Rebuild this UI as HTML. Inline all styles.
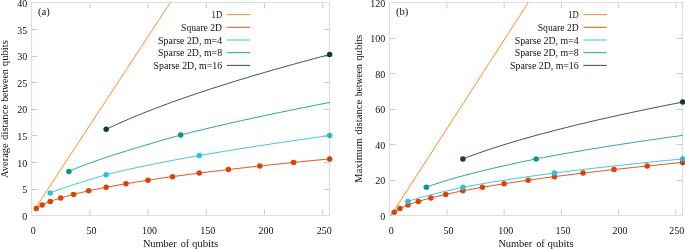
<!DOCTYPE html>
<html><head><meta charset="utf-8"><title>chart</title>
<style>
html,body{margin:0;padding:0;background:#fff;}
svg{display:block;position:absolute;left:0;top:0;will-change:transform}
text{font-family:"Liberation Serif",serif;fill:#111;}
.t{font-size:10px}
.l{font-size:9.8px}
.g{font-size:9.4px}
</style></head><body>
<svg width="685" height="249" viewBox="0 0 685 249">
<rect width="685" height="249" fill="#fff"/>
<clipPath id="ca"><rect x="27.5" y="2.5" width="306.0" height="217.0"/></clipPath>
<path d="M89.90 215.0v-5.4M89.90 3.0v5.4M148.11 215.0v-5.4M148.11 3.0v5.4M206.31 215.0v-5.4M206.31 3.0v5.4M264.51 215.0v-5.4M264.51 3.0v5.4M322.72 215.0v-5.4M322.72 3.0v5.4M32.0 189.50h5.4M329.0 189.50h-5.4M32.0 162.50h5.4M329.0 162.50h-5.4M32.0 135.50h5.4M329.0 135.50h-5.4M32.0 109.50h5.4M329.0 109.50h-5.4M32.0 82.50h5.4M329.0 82.50h-5.4M32.0 56.50h5.4M329.0 56.50h-5.4M32.0 29.50h5.4M329.0 29.50h-5.4" stroke="#000" stroke-opacity="0.21" stroke-width="1" fill="none"/>
<path d="M35.14 208.60 L108.77 96.33 L182.40 -15.94 L256.02 -128.21 L329.65 -240.48" stroke="#ff8c28" stroke-width="1.0" fill="none" clip-path="url(#ca)"/>
<path d="M36.31 208.60 L38.75 206.93 L41.20 205.53 L43.64 204.31 L46.08 203.20 L48.53 202.18 L50.97 201.24 L53.42 200.35 L55.86 199.51 L58.31 198.71 L60.75 197.95 L63.20 197.22 L65.64 196.52 L68.09 195.84 L70.53 195.18 L72.97 194.55 L75.42 193.93 L77.86 193.33 L80.31 192.75 L82.75 192.18 L85.20 191.62 L87.64 191.08 L90.09 190.55 L92.53 190.03 L94.97 189.52 L97.42 189.02 L99.86 188.52 L102.31 188.04 L104.75 187.57 L107.20 187.10 L109.64 186.64 L112.09 186.19 L114.53 185.75 L116.98 185.31 L119.42 184.87 L121.86 184.45 L124.31 184.03 L126.75 183.61 L129.20 183.20 L131.64 182.80 L134.09 182.40 L136.53 182.00 L138.98 181.61 L141.42 181.23 L143.87 180.84 L146.31 180.47 L148.75 180.09 L151.20 179.72 L153.64 179.36 L156.09 179.00 L158.53 178.64 L160.98 178.28 L163.42 177.93 L165.87 177.58 L168.31 177.24 L170.76 176.89 L173.20 176.55 L175.64 176.22 L178.09 175.88 L180.53 175.55 L182.98 175.22 L185.42 174.90 L187.87 174.58 L190.31 174.25 L192.76 173.94 L195.20 173.62 L197.65 173.31 L200.09 173.00 L202.53 172.69 L204.98 172.38 L207.42 172.08 L209.87 171.77 L212.31 171.47 L214.76 171.18 L217.20 170.88 L219.65 170.59 L222.09 170.29 L224.54 170.00 L226.98 169.71 L229.42 169.43 L231.87 169.14 L234.31 168.86 L236.76 168.58 L239.20 168.30 L241.65 168.02 L244.09 167.74 L246.54 167.47 L248.98 167.19 L251.43 166.92 L253.87 166.65 L256.31 166.38 L258.76 166.11 L261.20 165.85 L263.65 165.58 L266.09 165.32 L268.54 165.06 L270.98 164.80 L273.43 164.54 L275.87 164.28 L278.31 164.02 L280.76 163.77 L283.20 163.51 L285.65 163.26 L288.09 163.01 L290.54 162.76 L292.98 162.51 L295.43 162.26 L297.87 162.01 L300.32 161.77 L302.76 161.52 L305.20 161.28 L307.65 161.04 L310.09 160.80 L312.54 160.55 L314.98 160.32 L317.43 160.08 L319.87 159.84 L322.32 159.60 L324.76 159.37 L327.21 159.13 L329.65 158.90" stroke="#e5501a" stroke-width="1.0" fill="none" clip-path="url(#ca)"/>
<circle cx="36.31" cy="208.60" r="2.75" fill="#d94306"/><circle cx="42.13" cy="205.05" r="2.75" fill="#d94306"/><circle cx="50.27" cy="201.50" r="2.75" fill="#d94306"/><circle cx="60.75" cy="197.95" r="2.75" fill="#d94306"/><circle cx="73.56" cy="194.40" r="2.75" fill="#d94306"/><circle cx="88.69" cy="190.85" r="2.75" fill="#d94306"/><circle cx="106.15" cy="187.30" r="2.75" fill="#d94306"/><circle cx="125.94" cy="183.75" r="2.75" fill="#d94306"/><circle cx="148.06" cy="180.20" r="2.75" fill="#d94306"/><circle cx="172.50" cy="176.65" r="2.75" fill="#d94306"/><circle cx="199.28" cy="173.10" r="2.75" fill="#d94306"/><circle cx="228.38" cy="169.55" r="2.75" fill="#d94306"/><circle cx="259.81" cy="166.00" r="2.75" fill="#d94306"/><circle cx="293.56" cy="162.45" r="2.75" fill="#d94306"/><circle cx="329.65" cy="158.90" r="2.75" fill="#d94306"/>
<path d="M50.27 193.07 L52.60 192.07 L54.93 191.13 L57.26 190.24 L59.59 189.38 L61.92 188.55 L64.24 187.75 L66.57 186.97 L68.90 186.20 L71.23 185.45 L73.56 184.70 L75.88 183.96 L78.21 183.23 L80.54 182.51 L82.87 181.78 L85.20 181.06 L87.53 180.34 L89.85 179.62 L92.18 178.91 L94.51 178.20 L96.84 177.49 L99.17 176.78 L101.49 176.08 L103.82 175.39 L106.15 174.70 L108.48 174.12 L110.81 173.54 L113.13 172.97 L115.46 172.42 L117.79 171.86 L120.12 171.32 L122.45 170.78 L124.78 170.25 L127.10 169.72 L129.43 169.20 L131.76 168.68 L134.09 168.17 L136.42 167.67 L138.74 167.17 L141.07 166.68 L143.40 166.19 L145.73 165.70 L148.06 165.22 L150.38 164.74 L152.71 164.27 L155.04 163.80 L157.37 163.34 L159.70 162.88 L162.03 162.42 L164.35 161.97 L166.68 161.52 L169.01 161.07 L171.34 160.63 L173.67 160.19 L175.99 159.75 L178.32 159.32 L180.65 158.89 L182.98 158.46 L185.31 158.03 L187.63 157.61 L189.96 157.19 L192.29 156.78 L194.62 156.36 L196.95 155.95 L199.28 155.55 L201.60 155.14 L203.93 154.74 L206.26 154.33 L208.59 153.94 L210.92 153.54 L213.24 153.15 L215.57 152.75 L217.90 152.36 L220.23 151.98 L222.56 151.59 L224.88 151.21 L227.21 150.83 L229.54 150.45 L231.87 150.07 L234.20 149.69 L236.53 149.32 L238.85 148.95 L241.18 148.58 L243.51 148.21 L245.84 147.84 L248.17 147.48 L250.49 147.11 L252.82 146.75 L255.15 146.39 L257.48 146.03 L259.81 145.68 L262.13 145.32 L264.46 144.97 L266.79 144.62 L269.12 144.26 L271.45 143.92 L273.77 143.57 L276.10 143.22 L278.43 142.88 L280.76 142.53 L283.09 142.19 L285.42 141.85 L287.74 141.51 L290.07 141.17 L292.40 140.84 L294.73 140.50 L297.06 140.17 L299.38 139.83 L301.71 139.50 L304.04 139.17 L306.37 138.84 L308.70 138.51 L311.02 138.19 L313.35 137.86 L315.68 137.54 L318.01 137.21 L320.34 136.89 L322.67 136.57 L324.99 136.25 L327.32 135.93 L329.65 135.61" stroke="#3cc4dc" stroke-width="1.0" fill="none" clip-path="url(#ca)"/>
<circle cx="50.27" cy="193.07" r="2.75" fill="#30c0d8"/><circle cx="106.15" cy="174.70" r="2.75" fill="#30c0d8"/><circle cx="199.28" cy="155.55" r="2.75" fill="#30c0d8"/><circle cx="329.65" cy="135.61" r="2.75" fill="#30c0d8"/>
<path d="M68.90 171.40 L71.07 170.44 L73.25 169.51 L75.42 168.61 L77.59 167.72 L79.76 166.86 L81.94 166.01 L84.11 165.18 L86.28 164.36 L88.46 163.55 L90.63 162.76 L92.80 161.98 L94.97 161.21 L97.15 160.46 L99.32 159.71 L101.49 158.97 L103.67 158.23 L105.84 157.51 L108.01 156.79 L110.19 156.08 L112.36 155.38 L114.53 154.68 L116.70 153.98 L118.88 153.29 L121.05 152.61 L123.22 151.93 L125.40 151.25 L127.57 150.58 L129.74 149.91 L131.91 149.24 L134.09 148.58 L136.26 147.92 L138.43 147.26 L140.61 146.61 L142.78 145.96 L144.95 145.31 L147.13 144.66 L149.30 144.02 L151.47 143.38 L153.64 142.74 L155.82 142.10 L157.99 141.47 L160.16 140.84 L162.34 140.21 L164.51 139.58 L166.68 138.96 L168.85 138.34 L171.03 137.72 L173.20 137.11 L175.37 136.50 L177.55 135.89 L179.72 135.28 L181.89 134.71 L184.06 134.16 L186.24 133.61 L188.41 133.07 L190.58 132.53 L192.76 131.99 L194.93 131.46 L197.10 130.92 L199.28 130.39 L201.45 129.87 L203.62 129.35 L205.79 128.83 L207.97 128.31 L210.14 127.79 L212.31 127.28 L214.49 126.77 L216.66 126.26 L218.83 125.76 L221.00 125.25 L223.18 124.75 L225.35 124.26 L227.52 123.76 L229.70 123.27 L231.87 122.78 L234.04 122.29 L236.21 121.80 L238.39 121.31 L240.56 120.83 L242.73 120.35 L244.91 119.87 L247.08 119.39 L249.25 118.92 L251.43 118.45 L253.60 117.97 L255.77 117.51 L257.94 117.04 L260.12 116.57 L262.29 116.11 L264.46 115.65 L266.64 115.19 L268.81 114.73 L270.98 114.27 L273.15 113.81 L275.33 113.36 L277.50 112.91 L279.67 112.46 L281.85 112.01 L284.02 111.56 L286.19 111.11 L288.36 110.67 L290.54 110.23 L292.71 109.78 L294.88 109.34 L297.06 108.91 L299.23 108.47 L301.40 108.03 L303.57 107.60 L305.75 107.16 L307.92 106.73 L310.09 106.30 L312.27 105.87 L314.44 105.44 L316.61 105.02 L318.79 104.59 L320.96 104.17 L323.13 103.75 L325.30 103.32 L327.48 102.90 L329.65 102.48" stroke="#26a0a0" stroke-width="1.0" fill="none" clip-path="url(#ca)"/>
<circle cx="68.90" cy="171.40" r="2.75" fill="#0e9a6c"/><circle cx="180.65" cy="135.02" r="2.75" fill="#0e9a6c"/>
<path d="M106.15 129.33 L108.01 128.44 L109.88 127.56 L111.74 126.68 L113.60 125.82 L115.46 124.97 L117.33 124.12 L119.19 123.29 L121.05 122.46 L122.91 121.64 L124.78 120.82 L126.64 120.02 L128.50 119.22 L130.36 118.43 L132.22 117.64 L134.09 116.86 L135.95 116.09 L137.81 115.32 L139.67 114.56 L141.54 113.81 L143.40 113.06 L145.26 112.32 L147.13 111.58 L148.99 110.85 L150.85 110.12 L152.71 109.40 L154.58 108.68 L156.44 107.97 L158.30 107.26 L160.16 106.56 L162.03 105.86 L163.89 105.17 L165.75 104.48 L167.61 103.79 L169.48 103.11 L171.34 102.43 L173.20 101.76 L175.06 101.09 L176.93 100.42 L178.79 99.76 L180.65 99.10 L182.51 98.45 L184.38 97.80 L186.24 97.15 L188.10 96.51 L189.96 95.87 L191.82 95.23 L193.69 94.60 L195.55 93.97 L197.41 93.34 L199.28 92.71 L201.14 92.09 L203.00 91.47 L204.86 90.86 L206.73 90.25 L208.59 89.64 L210.45 89.03 L212.31 88.42 L214.18 87.82 L216.04 87.22 L217.90 86.63 L219.76 86.03 L221.62 85.44 L223.49 84.85 L225.35 84.27 L227.21 83.68 L229.07 83.10 L230.94 82.52 L232.80 81.95 L234.66 81.37 L236.53 80.80 L238.39 80.23 L240.25 79.66 L242.11 79.10 L243.98 78.54 L245.84 77.97 L247.70 77.42 L249.56 76.86 L251.43 76.30 L253.29 75.75 L255.15 75.20 L257.01 74.65 L258.88 74.10 L260.74 73.56 L262.60 73.02 L264.46 72.47 L266.32 71.94 L268.19 71.40 L270.05 70.86 L271.91 70.33 L273.77 69.80 L275.64 69.27 L277.50 68.74 L279.36 68.21 L281.23 67.68 L283.09 67.16 L284.95 66.64 L286.81 66.12 L288.68 65.60 L290.54 65.08 L292.40 64.57 L294.26 64.05 L296.12 63.54 L297.99 63.03 L299.85 62.52 L301.71 62.01 L303.57 61.51 L305.44 61.00 L307.30 60.50 L309.16 60.00 L311.02 59.50 L312.89 59.00 L314.75 58.50 L316.61 58.00 L318.47 57.51 L320.34 57.01 L322.20 56.52 L324.06 56.03 L325.93 55.54 L327.79 55.05 L329.65 54.57" stroke="#2f4f4f" stroke-width="1.0" fill="none" clip-path="url(#ca)"/>
<circle cx="106.15" cy="129.33" r="2.75" fill="#1a3c36"/><circle cx="329.65" cy="54.57" r="2.75" fill="#1a3c36"/>
<rect x="31.5" y="2.5" width="298.0" height="213.0" fill="none" stroke="#000" stroke-opacity="0.13" stroke-width="1.2" stroke-linejoin="round"/>
<text x="33.20" y="233.6" text-anchor="middle" class="t">0</text>
<text x="91.40" y="233.6" text-anchor="middle" class="t">50</text>
<text x="149.61" y="233.6" text-anchor="middle" class="t">100</text>
<text x="207.81" y="233.6" text-anchor="middle" class="t">150</text>
<text x="266.01" y="233.6" text-anchor="middle" class="t">200</text>
<text x="324.22" y="233.6" text-anchor="middle" class="t">250</text>
<text x="27.30" y="219.95" text-anchor="end" class="t">0</text>
<text x="27.30" y="193.32" text-anchor="end" class="t">5</text>
<text x="27.30" y="166.70" text-anchor="end" class="t">10</text>
<text x="27.30" y="140.07" text-anchor="end" class="t">15</text>
<text x="27.30" y="113.45" text-anchor="end" class="t">20</text>
<text x="27.30" y="86.83" text-anchor="end" class="t">25</text>
<text x="27.30" y="60.20" text-anchor="end" class="t">30</text>
<text x="27.30" y="33.58" text-anchor="end" class="t">35</text>
<text x="27.30" y="6.95" text-anchor="end" class="t">40</text>
<text x="142.90" y="247.1" class="l" textLength="33.90" lengthAdjust="spacingAndGlyphs">Number</text>
<text x="180.70" y="247.1" class="l" textLength="8.50" lengthAdjust="spacingAndGlyphs">of</text>
<text x="191.90" y="247.1" class="l" textLength="26.40" lengthAdjust="spacingAndGlyphs">qubits</text>
<text x="38.00" y="14.7" class="l" textLength="11.9" lengthAdjust="spacingAndGlyphs">(a)</text>
<text x="222.10" y="18.10" text-anchor="end" class="g" textLength="10.5" lengthAdjust="spacingAndGlyphs">1D</text>
<path d="M226.80 14.60h23.4" stroke="#ff8c28" stroke-width="1"/>
<text x="222.10" y="30.80" text-anchor="end" class="g" textLength="41.0" lengthAdjust="spacingAndGlyphs">Square 2D</text>
<path d="M226.80 27.30h23.4" stroke="#e5501a" stroke-width="1"/>
<text x="222.10" y="43.50" text-anchor="end" class="g" textLength="64.0" lengthAdjust="spacingAndGlyphs">Sparse 2D, m=4</text>
<path d="M226.80 40.00h23.4" stroke="#3cc4dc" stroke-width="1"/>
<text x="222.10" y="56.20" text-anchor="end" class="g" textLength="64.0" lengthAdjust="spacingAndGlyphs">Sparse 2D, m=8</text>
<path d="M226.80 52.70h23.4" stroke="#26a0a0" stroke-width="1"/>
<text x="222.10" y="68.90" text-anchor="end" class="g" textLength="68.6" lengthAdjust="spacingAndGlyphs">Sparse 2D, m=16</text>
<path d="M226.80 65.40h23.4" stroke="#2f4f4f" stroke-width="1"/>
<clipPath id="cb"><rect x="385.5" y="2.5" width="301.0" height="217.0"/></clipPath>
<path d="M446.93 215.0v-5.4M446.93 3.0v5.4M504.15 215.0v-5.4M504.15 3.0v5.4M561.38 215.0v-5.4M561.38 3.0v5.4M618.61 215.0v-5.4M618.61 3.0v5.4M675.83 215.0v-5.4M675.83 3.0v5.4M390.0 180.50h5.4M682.0 180.50h-5.4M390.0 144.50h5.4M682.0 144.50h-5.4M390.0 109.50h5.4M682.0 109.50h-5.4M390.0 73.50h5.4M682.0 73.50h-5.4M390.0 38.50h5.4M682.0 38.50h-5.4" stroke="#000" stroke-opacity="0.21" stroke-width="1" fill="none"/>
<path d="M390.79 215.70 L463.76 102.54 L536.72 -10.61 L609.69 -123.77 L682.65 -236.93" stroke="#ff8c28" stroke-width="1.0" fill="none" clip-path="url(#cb)"/>
<path d="M394.23 212.15 L396.63 210.48 L399.04 209.08 L401.44 207.86 L403.84 206.75 L406.25 205.73 L408.65 204.79 L411.05 203.90 L413.46 203.06 L415.86 202.26 L418.26 201.50 L420.67 200.77 L423.07 200.07 L425.47 199.39 L427.88 198.73 L430.28 198.10 L432.68 197.48 L435.09 196.88 L437.49 196.30 L439.89 195.73 L442.30 195.17 L444.70 194.63 L447.11 194.10 L449.51 193.58 L451.91 193.07 L454.32 192.57 L456.72 192.07 L459.12 191.59 L461.53 191.12 L463.93 190.65 L466.33 190.19 L468.74 189.74 L471.14 189.30 L473.54 188.86 L475.95 188.42 L478.35 188.00 L480.75 187.58 L483.16 187.16 L485.56 186.75 L487.97 186.35 L490.37 185.95 L492.77 185.55 L495.18 185.16 L497.58 184.78 L499.98 184.39 L502.39 184.02 L504.79 183.64 L507.19 183.27 L509.60 182.91 L512.00 182.55 L514.40 182.19 L516.81 181.83 L519.21 181.48 L521.61 181.13 L524.02 180.79 L526.42 180.44 L528.82 180.10 L531.23 179.77 L533.63 179.43 L536.04 179.10 L538.44 178.77 L540.84 178.45 L543.25 178.13 L545.65 177.80 L548.05 177.49 L550.46 177.17 L552.86 176.86 L555.26 176.55 L557.67 176.24 L560.07 175.93 L562.47 175.63 L564.88 175.32 L567.28 175.02 L569.68 174.73 L572.09 174.43 L574.49 174.14 L576.90 173.84 L579.30 173.55 L581.70 173.26 L584.11 172.98 L586.51 172.69 L588.91 172.41 L591.32 172.13 L593.72 171.85 L596.12 171.57 L598.53 171.29 L600.93 171.02 L603.33 170.74 L605.74 170.47 L608.14 170.20 L610.54 169.93 L612.95 169.66 L615.35 169.40 L617.76 169.13 L620.16 168.87 L622.56 168.61 L624.97 168.35 L627.37 168.09 L629.77 167.83 L632.18 167.57 L634.58 167.32 L636.98 167.06 L639.39 166.81 L641.79 166.56 L644.19 166.31 L646.60 166.06 L649.00 165.81 L651.40 165.56 L653.81 165.32 L656.21 165.07 L658.61 164.83 L661.02 164.59 L663.42 164.35 L665.83 164.10 L668.23 163.87 L670.63 163.63 L673.04 163.39 L675.44 163.15 L677.84 162.92 L680.25 162.68 L682.65 162.45" stroke="#e5501a" stroke-width="1.0" fill="none" clip-path="url(#cb)"/>
<circle cx="394.23" cy="212.15" r="2.75" fill="#d94306"/><circle cx="399.95" cy="208.60" r="2.75" fill="#d94306"/><circle cx="407.96" cy="205.05" r="2.75" fill="#d94306"/><circle cx="418.26" cy="201.50" r="2.75" fill="#d94306"/><circle cx="430.85" cy="197.95" r="2.75" fill="#d94306"/><circle cx="445.73" cy="194.40" r="2.75" fill="#d94306"/><circle cx="462.90" cy="190.85" r="2.75" fill="#d94306"/><circle cx="482.36" cy="187.30" r="2.75" fill="#d94306"/><circle cx="504.10" cy="183.75" r="2.75" fill="#d94306"/><circle cx="528.14" cy="180.20" r="2.75" fill="#d94306"/><circle cx="554.46" cy="176.65" r="2.75" fill="#d94306"/><circle cx="583.08" cy="173.10" r="2.75" fill="#d94306"/><circle cx="613.98" cy="169.55" r="2.75" fill="#d94306"/><circle cx="647.17" cy="166.00" r="2.75" fill="#d94306"/><circle cx="682.65" cy="162.45" r="2.75" fill="#d94306"/>
<path d="M407.96 201.50 L410.25 200.69 L412.54 199.92 L414.83 199.20 L417.12 198.50 L419.41 197.84 L421.70 197.19 L423.99 196.57 L426.27 195.96 L428.56 195.36 L430.85 194.78 L433.14 194.20 L435.43 193.64 L437.72 193.08 L440.01 192.53 L442.30 191.98 L444.59 191.44 L446.88 190.91 L449.17 190.38 L451.45 189.85 L453.74 189.33 L456.03 188.81 L458.32 188.30 L460.61 187.80 L462.90 187.30 L465.19 186.86 L467.48 186.43 L469.77 186.00 L472.06 185.58 L474.35 185.16 L476.63 184.75 L478.92 184.35 L481.21 183.95 L483.50 183.55 L485.79 183.16 L488.08 182.78 L490.37 182.40 L492.66 182.02 L494.95 181.65 L497.24 181.28 L499.52 180.92 L501.81 180.56 L504.10 180.20 L506.39 179.85 L508.68 179.50 L510.97 179.15 L513.26 178.81 L515.55 178.47 L517.84 178.13 L520.13 177.80 L522.42 177.47 L524.70 177.14 L526.99 176.81 L529.28 176.49 L531.57 176.17 L533.86 175.85 L536.15 175.54 L538.44 175.22 L540.73 174.91 L543.02 174.61 L545.31 174.30 L547.60 174.00 L549.88 173.70 L552.17 173.40 L554.46 173.10 L556.75 172.81 L559.04 172.51 L561.33 172.22 L563.62 171.93 L565.91 171.65 L568.20 171.36 L570.49 171.08 L572.77 170.80 L575.06 170.52 L577.35 170.24 L579.64 169.96 L581.93 169.69 L584.22 169.41 L586.51 169.14 L588.80 168.87 L591.09 168.60 L593.38 168.34 L595.67 168.07 L597.95 167.81 L600.24 167.55 L602.53 167.28 L604.82 167.02 L607.11 166.77 L609.40 166.51 L611.69 166.25 L613.98 166.00 L616.27 165.75 L618.56 165.50 L620.85 165.25 L623.13 165.00 L625.42 164.75 L627.71 164.50 L630.00 164.26 L632.29 164.01 L634.58 163.77 L636.87 163.53 L639.16 163.28 L641.45 163.04 L643.74 162.81 L646.02 162.57 L648.31 162.33 L650.60 162.10 L652.89 161.86 L655.18 161.63 L657.47 161.40 L659.76 161.16 L662.05 160.93 L664.34 160.70 L666.63 160.47 L668.92 160.25 L671.20 160.02 L673.49 159.79 L675.78 159.57 L678.07 159.35 L680.36 159.12 L682.65 158.90" stroke="#3cc4dc" stroke-width="1.0" fill="none" clip-path="url(#cb)"/>
<circle cx="407.96" cy="201.50" r="2.75" fill="#30c0d8"/><circle cx="462.90" cy="187.30" r="2.75" fill="#30c0d8"/><circle cx="554.46" cy="173.10" r="2.75" fill="#30c0d8"/><circle cx="682.65" cy="158.90" r="2.75" fill="#30c0d8"/>
<path d="M426.27 187.30 L428.41 186.51 L430.55 185.73 L432.68 184.98 L434.82 184.25 L436.96 183.53 L439.09 182.83 L441.23 182.14 L443.37 181.47 L445.50 180.81 L447.64 180.17 L449.78 179.53 L451.91 178.91 L454.05 178.29 L456.19 177.69 L458.32 177.09 L460.46 176.51 L462.59 175.93 L464.73 175.35 L466.87 174.79 L469.00 174.23 L471.14 173.68 L473.28 173.13 L475.41 172.59 L477.55 172.06 L479.69 171.53 L481.82 171.00 L483.96 170.48 L486.10 169.97 L488.23 169.45 L490.37 168.95 L492.51 168.44 L494.64 167.94 L496.78 167.45 L498.91 166.96 L501.05 166.47 L503.19 165.98 L505.32 165.50 L507.46 165.02 L509.60 164.55 L511.73 164.08 L513.87 163.61 L516.01 163.14 L518.14 162.68 L520.28 162.22 L522.42 161.76 L524.55 161.31 L526.69 160.86 L528.82 160.41 L530.96 159.97 L533.10 159.53 L535.23 159.09 L537.37 158.66 L539.51 158.25 L541.64 157.84 L543.78 157.44 L545.92 157.04 L548.05 156.64 L550.19 156.24 L552.33 155.85 L554.46 155.45 L556.60 155.07 L558.74 154.68 L560.87 154.29 L563.01 153.91 L565.14 153.53 L567.28 153.16 L569.42 152.78 L571.55 152.41 L573.69 152.04 L575.83 151.67 L577.96 151.30 L580.10 150.94 L582.24 150.58 L584.37 150.22 L586.51 149.86 L588.65 149.50 L590.78 149.15 L592.92 148.79 L595.06 148.44 L597.19 148.09 L599.33 147.75 L601.46 147.40 L603.60 147.06 L605.74 146.72 L607.87 146.38 L610.01 146.04 L612.15 145.70 L614.28 145.37 L616.42 145.03 L618.56 144.70 L620.69 144.37 L622.83 144.04 L624.97 143.71 L627.10 143.39 L629.24 143.06 L631.38 142.74 L633.51 142.42 L635.65 142.10 L637.78 141.78 L639.92 141.46 L642.06 141.14 L644.19 140.83 L646.33 140.52 L648.47 140.20 L650.60 139.89 L652.74 139.58 L654.88 139.27 L657.01 138.97 L659.15 138.66 L661.29 138.36 L663.42 138.05 L665.56 137.75 L667.69 137.45 L669.83 137.15 L671.97 136.85 L674.10 136.55 L676.24 136.26 L678.38 135.96 L680.51 135.67 L682.65 135.37" stroke="#26a0a0" stroke-width="1.0" fill="none" clip-path="url(#cb)"/>
<circle cx="426.27" cy="187.30" r="2.75" fill="#0e9890"/><circle cx="536.15" cy="158.90" r="2.75" fill="#0e9890"/>
<path d="M462.90 158.90 L464.73 158.19 L466.56 157.50 L468.39 156.81 L470.22 156.13 L472.06 155.45 L473.89 154.79 L475.72 154.13 L477.55 153.48 L479.38 152.83 L481.21 152.20 L483.04 151.56 L484.88 150.94 L486.71 150.32 L488.54 149.70 L490.37 149.10 L492.20 148.49 L494.03 147.90 L495.86 147.30 L497.69 146.72 L499.52 146.13 L501.36 145.56 L503.19 144.98 L505.02 144.42 L506.85 143.85 L508.68 143.29 L510.51 142.74 L512.34 142.19 L514.17 141.64 L516.01 141.10 L517.84 140.56 L519.67 140.03 L521.50 139.49 L523.33 138.97 L525.16 138.44 L526.99 137.92 L528.82 137.41 L530.66 136.89 L532.49 136.38 L534.32 135.88 L536.15 135.37 L537.98 134.87 L539.81 134.37 L541.64 133.88 L543.48 133.39 L545.31 132.90 L547.14 132.41 L548.97 131.93 L550.80 131.45 L552.63 130.97 L554.46 130.50 L556.29 130.03 L558.12 129.56 L559.96 129.09 L561.79 128.63 L563.62 128.17 L565.45 127.71 L567.28 127.25 L569.11 126.79 L570.94 126.34 L572.77 125.89 L574.61 125.44 L576.44 125.00 L578.27 124.55 L580.10 124.11 L581.93 123.67 L583.76 123.24 L585.59 122.80 L587.42 122.37 L589.26 121.94 L591.09 121.51 L592.92 121.08 L594.75 120.66 L596.58 120.23 L598.41 119.81 L600.24 119.39 L602.07 118.97 L603.91 118.56 L605.74 118.14 L607.57 117.73 L609.40 117.32 L611.23 116.91 L613.06 116.50 L614.89 116.10 L616.73 115.69 L618.56 115.29 L620.39 114.89 L622.22 114.49 L624.05 114.09 L625.88 113.70 L627.71 113.30 L629.54 112.91 L631.38 112.52 L633.21 112.13 L635.04 111.74 L636.87 111.35 L638.70 110.97 L640.53 110.58 L642.36 110.20 L644.19 109.82 L646.02 109.44 L647.86 109.06 L649.69 108.68 L651.52 108.30 L653.35 107.93 L655.18 107.56 L657.01 107.18 L658.84 106.81 L660.68 106.44 L662.51 106.07 L664.34 105.71 L666.17 105.34 L668.00 104.98 L669.83 104.61 L671.66 104.25 L673.49 103.89 L675.32 103.53 L677.16 103.17 L678.99 102.81 L680.82 102.46 L682.65 102.10" stroke="#2f4f4f" stroke-width="1.0" fill="none" clip-path="url(#cb)"/>
<circle cx="462.90" cy="158.90" r="2.75" fill="#1a3c36"/><circle cx="682.65" cy="102.10" r="2.75" fill="#1a3c36"/>
<rect x="389.5" y="2.5" width="293.0" height="213.0" fill="none" stroke="#000" stroke-opacity="0.13" stroke-width="1.2" stroke-linejoin="round"/>
<text x="391.20" y="233.6" text-anchor="middle" class="t">0</text>
<text x="448.43" y="233.6" text-anchor="middle" class="t">50</text>
<text x="505.65" y="233.6" text-anchor="middle" class="t">100</text>
<text x="562.88" y="233.6" text-anchor="middle" class="t">150</text>
<text x="620.11" y="233.6" text-anchor="middle" class="t">200</text>
<text x="676.73" y="233.6" text-anchor="middle" class="t">250</text>
<text x="385.30" y="219.95" text-anchor="end" class="t">0</text>
<text x="385.30" y="184.45" text-anchor="end" class="t">20</text>
<text x="385.30" y="148.95" text-anchor="end" class="t">40</text>
<text x="385.30" y="113.45" text-anchor="end" class="t">60</text>
<text x="385.30" y="77.95" text-anchor="end" class="t">80</text>
<text x="385.30" y="42.45" text-anchor="end" class="t">100</text>
<text x="385.30" y="6.95" text-anchor="end" class="t">120</text>
<text x="498.40" y="247.1" class="l" textLength="33.90" lengthAdjust="spacingAndGlyphs">Number</text>
<text x="536.20" y="247.1" class="l" textLength="8.50" lengthAdjust="spacingAndGlyphs">of</text>
<text x="547.40" y="247.1" class="l" textLength="26.40" lengthAdjust="spacingAndGlyphs">qubits</text>
<text x="396.00" y="14.7" class="l" textLength="12.4" lengthAdjust="spacingAndGlyphs">(b)</text>
<text x="578.70" y="18.10" text-anchor="end" class="g" textLength="10.5" lengthAdjust="spacingAndGlyphs">1D</text>
<path d="M583.40 14.60h23.4" stroke="#ff8c28" stroke-width="1"/>
<text x="578.70" y="30.80" text-anchor="end" class="g" textLength="41.0" lengthAdjust="spacingAndGlyphs">Square 2D</text>
<path d="M583.40 27.30h23.4" stroke="#e5501a" stroke-width="1"/>
<text x="578.70" y="43.50" text-anchor="end" class="g" textLength="64.0" lengthAdjust="spacingAndGlyphs">Sparse 2D, m=4</text>
<path d="M583.40 40.00h23.4" stroke="#3cc4dc" stroke-width="1"/>
<text x="578.70" y="56.20" text-anchor="end" class="g" textLength="64.0" lengthAdjust="spacingAndGlyphs">Sparse 2D, m=8</text>
<path d="M583.40 52.70h23.4" stroke="#26a0a0" stroke-width="1"/>
<text x="578.70" y="68.90" text-anchor="end" class="g" textLength="68.6" lengthAdjust="spacingAndGlyphs">Sparse 2D, m=16</text>
<path d="M583.40 65.40h23.4" stroke="#2f4f4f" stroke-width="1"/>
<text transform="translate(8.2 177.90) rotate(-90)" class="l" textLength="34.50" lengthAdjust="spacingAndGlyphs">Average</text><text transform="translate(8.2 139.90) rotate(-90)" class="l" textLength="35.10" lengthAdjust="spacingAndGlyphs">distance</text><text transform="translate(8.2 101.80) rotate(-90)" class="l" textLength="32.40" lengthAdjust="spacingAndGlyphs">between</text><text transform="translate(8.2 66.20) rotate(-90)" class="l" textLength="26.10" lengthAdjust="spacingAndGlyphs">qubits</text>
<text transform="translate(361.9 183.00) rotate(-90)" class="l" textLength="44.80" lengthAdjust="spacingAndGlyphs">Maximum</text><text transform="translate(361.9 134.70) rotate(-90)" class="l" textLength="35.00" lengthAdjust="spacingAndGlyphs">distance</text><text transform="translate(361.9 96.30) rotate(-90)" class="l" textLength="32.20" lengthAdjust="spacingAndGlyphs">between</text><text transform="translate(361.9 60.70) rotate(-90)" class="l" textLength="25.90" lengthAdjust="spacingAndGlyphs">qubits</text>
</svg>
</body></html>
